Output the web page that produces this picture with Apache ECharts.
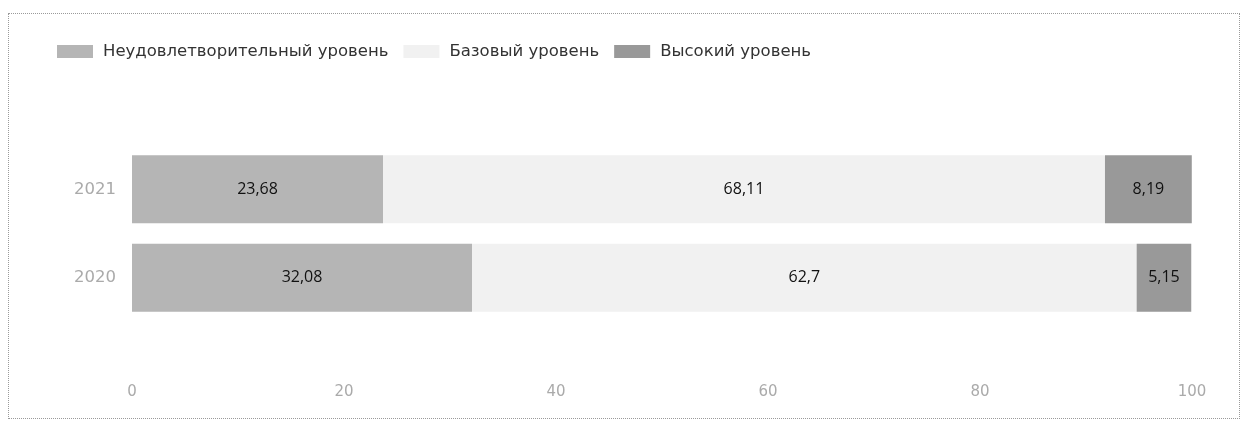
<!DOCTYPE html>
<html>
<head>
<meta charset="utf-8">
<script src="https://cdn.jsdelivr.net/npm/echarts@6/dist/echarts.min.js"></script>
<style>
  html, body { margin: 0; padding: 0; background: #fff; }
  #chart {
    position: absolute; left: 8px; top: 13px;
    width: 1232px; height: 406px;
    border: 1px dotted #9a9a9a;
    box-sizing: border-box;
  }
</style>
</head>
<body>
<div id="chart"></div>
<script>
// данные
var years = ['2020', '2021'];
var seriesNames = ['Неудовлетворительный уровень', 'Базовый уровень', 'Высокий уровень'];
var lowData = [32.08, 23.68];
var baseData = [62.7, 68.11];
var highData = [5.15, 8.19];
var xTicks = [0, 20, 40, 60, 80, 100];

var colors = ['#b5b5b5', '#f1f1f1', '#999999'];

var chart = echarts.init(document.getElementById('chart'));

function commaLabel(p) {
  return String(p.value).replace('.', ',');
}

function makeSeries(name, data, idx) {
  return {
    name: name,
    type: 'bar',
    stack: 'total',
    data: data,
    barCategoryGap: '23%',
    itemStyle: { color: colors[idx] },
    label: {
      show: true,
      position: 'inside',
      color: '#111',
      fontSize: 16,
      fontFamily: 'Open Sans',
      formatter: commaLabel
    }
  };
}

chart.setOption({
  animation: false,
  legend: {
    left: 43,
    top: 24,
    icon: 'rect',
    itemWidth: 36,
    itemHeight: 13,
    itemGap: 15,
    textStyle: {
      color: '#333',
      fontSize: 16.5,
      fontFamily: 'DejaVu Sans',
      padding: [0, 0, 0, 5]
    },
    data: seriesNames
  },
  grid: {
    left: 123,
    right: 47,
    top: 131,
    bottom: 96
  },
  xAxis: {
    type: 'value',
    min: 0,
    max: 100,
    interval: 20,
    axisLine: { show: false },
    axisTick: { show: false },
    splitLine: { show: false },
    axisLabel: {
      color: '#aaa',
      fontSize: 15,
      fontFamily: 'DejaVu Sans',
      margin: 63
    }
  },
  yAxis: {
    type: 'category',
    data: years,
    axisLine: { show: false },
    axisTick: { show: false },
    axisLabel: {
      color: '#aaa',
      fontSize: 16.5,
      fontFamily: 'DejaVu Sans',
      margin: 16
    }
  },
  series: [
    makeSeries(seriesNames[0], lowData, 0),
    makeSeries(seriesNames[1], baseData, 1),
    makeSeries(seriesNames[2], highData, 2)
  ]
});
</script>
</body>
</html>
